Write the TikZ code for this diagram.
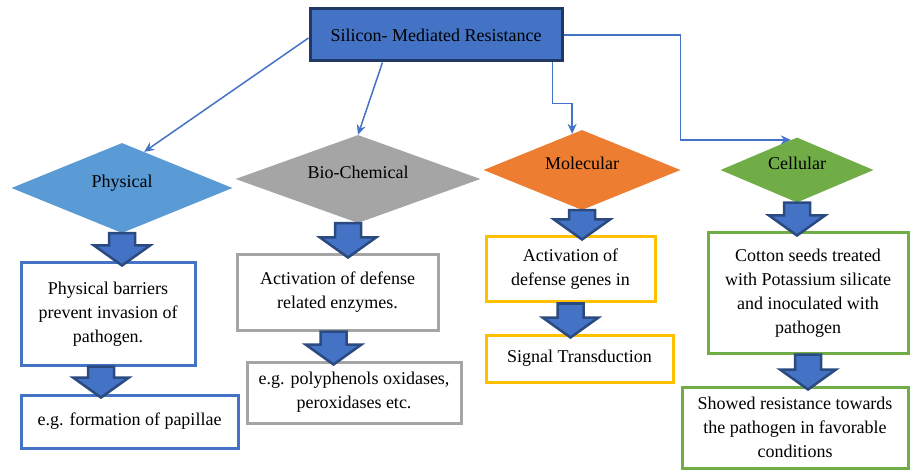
\documentclass[tikz,border=0pt]{standalone}
\usepackage{fontspec}
\setmainfont{Liberation Serif}
\usetikzlibrary{shapes.geometric,arrows.meta,calc}

\definecolor{siblue}{HTML}{4472C4}
\definecolor{sinavy}{HTML}{2A4A80}
\definecolor{topedge}{HTML}{203864}
\definecolor{physfill}{HTML}{5B9BD5}
\definecolor{biogray}{HTML}{A5A5A5}
\definecolor{molorange}{HTML}{ED7D31}
\definecolor{molyellow}{HTML}{FFC000}
\definecolor{cellgreen}{HTML}{70AD47}

% fat block arrow from one node anchor down to the next
\newcommand\fatarrow[2]{%
  \path[fat] let \p1=(#1), \p2=(#2) in
    (\x1-13pt,\y1) -- (\x1+13pt,\y1) -- (\x1+13pt,\y2+16pt) -- (\x1+28pt,\y2+16pt)
    -- (\x1,\y2-4pt) -- (\x1-28pt,\y2+16pt) -- (\x1-13pt,\y2+16pt) -- cycle;}

\begin{document}
\begin{tikzpicture}[x=1pt,y=-1pt,
    every node/.style={font=\fontsize{18}{24}\selectfont, align=center},
    kind/.style={diamond, aspect=2.5, inner sep=0pt, text height=13pt, text depth=13pt},
    box/.style={draw, line width=3pt, fill=white, inner sep=0pt},
    link/.style={draw=siblue, line width=1.5pt, -{Stealth[length=10pt,width=9pt]}},
    fat/.style={fill=siblue, draw=sinavy, line width=2.5pt, line join=miter}]
	\useasboundingbox (0,0) rectangle (910,470);

	\node[box, fill=siblue, draw=topedge, minimum width=252pt, minimum height=52pt] (top) at (436,35) {Silicon- Mediated Resistance};

	% the four kinds of resistance
	\node[kind, fill=physfill, minimum width=221pt, minimum height=90pt] (phys) at (122,188) {Physical};
	\node[kind, fill=biogray, minimum width=245pt, minimum height=88pt] (bio) at (358,179) {Bio-Chemical};
	\node[kind, fill=molorange, minimum width=197pt, minimum height=80pt] (mol) at (582,170) {Molecular};
	\node[kind, fill=cellgreen, minimum width=153pt, minimum height=65pt] (cell) at (797,170) {Cellular};

	\draw[link] ([yshift=-3pt]top.west) -- ($(phys.north)!0.2!(phys.east)$);
	\draw[link] ($(top.south west)!0.29!(top.south east)$) -- (bio.north);
	\draw[link] ([xshift=-11pt]top.south east) -- ++(0,41) -| ($(mol.north)!0.1!(mol.west)$);
	\draw[link] (top.east) -- ++(117,0) |- ($(cell.north)!0.08!(cell.west)$);

	% boxes below
	\node[box, draw=siblue, minimum width=174pt, minimum height=102pt] (physA) at (108,314) {Physical barriers\\prevent invasion of\\pathogen.};
	\node[box, draw=siblue, minimum width=217pt, minimum height=53pt] (physB) at (129.5,421.5) {e.g. formation of papillae};
	\node[box, draw=biogray, minimum width=201pt, minimum height=75pt] (bioA) at (337.5,292.5) {Activation of defense\\related enzymes.};
	\node[box, draw=biogray, minimum width=214pt, minimum height=61pt] (bioB) at (354,392.5) {e.g. polyphenols oxidases,\\peroxidases etc.};
	\node[box, draw=molyellow, minimum width=169pt, minimum height=65pt] (molA) at (570.5,269.5) {Activation of\\defense genes in};
	\node[box, draw=molyellow, minimum width=187pt, minimum height=47pt] (molB) at (579.5,358.5) {Signal Transduction};
	\node[box, draw=cellgreen, minimum width=200pt, minimum height=120pt] (cellA) at (808,293) {Cotton seeds treated\\with Potassium silicate\\and inoculated with\\pathogen};
	\node[box, draw=cellgreen, minimum width=226pt, minimum height=81pt] (cellB) at (795,427.5) {Showed resistance towards\\the pathogen in favorable\\conditions};

	\fatarrow{phys.south}{physA.north}
	\fatarrow{[xshift=-7pt]physA.south}{physB.north}
	\fatarrow{[xshift=-10pt]bio.south}{bioA.north}
	\fatarrow{[xshift=-4pt]bioA.south}{bioB.north}
	\fatarrow{mol.south}{molA.north}
	\fatarrow{molA.south}{molB.north}
	\fatarrow{cell.south}{cellA.north}
	\fatarrow{cellA.south}{cellB.north}
\end{tikzpicture}
\end{document}
